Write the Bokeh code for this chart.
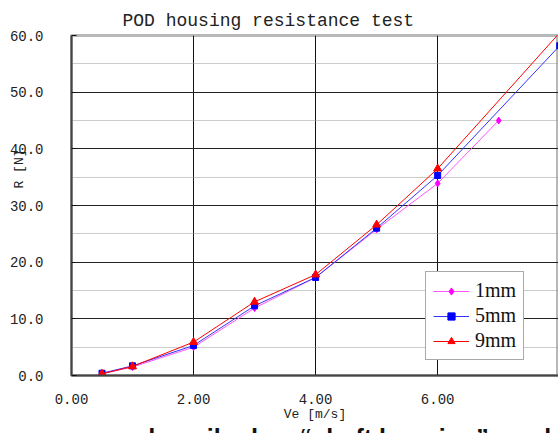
from bokeh.plotting import figure
from bokeh.models import Range1d, FixedTicker, Legend, LegendItem, PrintfTickFormatter, Title, Div
from bokeh.layouts import column
from bokeh.embed import file_html
from bokeh.resources import INLINE

# data
x_1mm = [0.5, 1.0, 2.0, 3.0, 4.0, 5.0, 6.0, 7.0]
r_1mm = [0.3, 1.5, 5.0, 11.9, 17.3, 25.8, 33.9, 45.0]
x_5mm = [0.5, 1.0, 2.0, 3.0, 4.0, 5.0, 6.0, 8.0]
r_5mm = [0.4, 1.7, 5.3, 12.3, 17.3, 26.0, 35.3, 58.2]
x_9mm = [0.5, 1.0, 2.0, 3.0, 4.0, 5.0, 6.0, 8.0]
r_9mm = [0.3, 1.6, 5.9, 13.0, 17.8, 26.6, 36.5, 60.5]
x_ticks = [0, 2, 4, 6, 8]
y_ticks = [0, 10, 20, 30, 40, 50, 60]
y_minor = [5, 15, 25, 35, 45, 55]
title_text = "POD housing resistance test"
xlabel = "Ve [m/s]"
ylabel = "R [N]"
caption = "described as \u201cshaft housing\u201d as sh"

MONO = "Liberation Mono"

p = figure(width=558, height=424, output_backend="svg", toolbar_location=None,
           x_range=Range1d(0, 7.98), y_range=Range1d(0, 60),
           min_border_left=71, min_border_right=0, min_border_top=35, min_border_bottom=49)
p.title.text = title_text
p.title.text_font = MONO
p.title.text_font_size = "18px"
p.title.text_font_style = "normal"
p.title.align = "left"
p.title.offset = 51
p.title.text_color = "#222222"

p.outline_line_color = "#b8b8b8"
p.outline_line_width = 3
p.background_fill_color = "white"
p.border_fill_color = "white"

# axes
p.xaxis.ticker = FixedTicker(ticks=x_ticks)
p.yaxis.ticker = FixedTicker(ticks=y_ticks, minor_ticks=y_minor)
p.xaxis.formatter = PrintfTickFormatter(format="%.2f")
p.yaxis.formatter = PrintfTickFormatter(format="%.1f")
for ax in (p.xaxis[0], p.yaxis[0]):
    ax.major_label_text_font = MONO
    ax.major_label_text_font_size = "14px"
    ax.major_label_text_color = "#222222"
    ax.axis_line_color = "#444444"
    ax.axis_line_width = 2
    ax.major_tick_out = 0
    ax.minor_tick_out = 0
    ax.minor_tick_in = 0
p.yaxis.major_tick_in = 5
p.yaxis.major_tick_line_color = "#111111"
p.xaxis.major_tick_in = 0
p.yaxis.major_label_standoff = 28
p.xaxis.major_label_standoff = 18
p.xaxis.axis_label = xlabel
p.xaxis.axis_label_text_font = MONO
p.xaxis.axis_label_text_font_size = "13px"
p.xaxis.axis_label_text_font_style = "normal"
p.xaxis.axis_label_standoff = 0
p.xaxis.axis_label_text_color = "#222222"

# grids
p.xgrid.grid_line_color = "#111111"
p.xgrid.grid_line_width = 1
p.ygrid.grid_line_color = "#222222"
p.ygrid.grid_line_width = 1
p.ygrid.minor_grid_line_color = "#999999"
p.ygrid.minor_grid_line_dash = "1 1"
p.ygrid.minor_grid_line_width = 1

# series
l1 = p.line(x_1mm, r_1mm, line_color="#ff55ff", line_width=1)
m1 = p.scatter(x_1mm, r_1mm, marker="diamond", size=7, color="#ff00ff")
l5 = p.line(x_5mm, r_5mm, line_color="#3333ff", line_width=1)
m5 = p.scatter(x_5mm, r_5mm, marker="square", size=6, color="#0000ff")
l9 = p.line(x_9mm, r_9mm, line_color="#ff0000", line_width=1)
m9 = p.scatter(x_9mm, r_9mm, marker="triangle", size=8, color="#ff0000")

legend = Legend(items=[LegendItem(label="1mm", renderers=[l1, m1]),
                       LegendItem(label="5mm", renderers=[l5, m5]),
                       LegendItem(label="9mm", renderers=[l9, m9])],
                location=(354, 15))
legend.label_text_font = "Liberation Serif"
legend.label_text_font_size = "20px"
legend.label_text_color = "#111111"
legend.border_line_color = "#555555"
legend.border_line_width = 1
legend.background_fill_alpha = 1
legend.glyph_width = 36
legend.glyph_height = 18
legend.label_height = 18
legend.spacing = 2
legend.padding = 7
legend.margin = 0
legend.label_standoff = 6
p.add_layout(legend, "center")

# y axis label as a side title, overlapping the tick labels as in the reference
ytitle = Title(text=ylabel, align="left", offset=187, standoff=-40,
               text_font=MONO, text_font_size="13px", text_font_style="normal",
               text_color="#222222")
p.add_layout(ytitle, "left")

# cropped caption line below the chart (only its top shows, as in the reference)
cap = Div(text=('<div style="white-space:nowrap; padding-left:140px; position:relative; top:-3px; '
                'font-family:\'Liberation Sans\'; font-weight:bold; font-size:25px; color:#111;">'
                + caption + '</div>'),
          width=558, height=9, margin=0, styles={"overflow": "hidden"})

layout = column(p, cap, spacing=0)
open("out.html", "w").write(file_html(layout, INLINE))
